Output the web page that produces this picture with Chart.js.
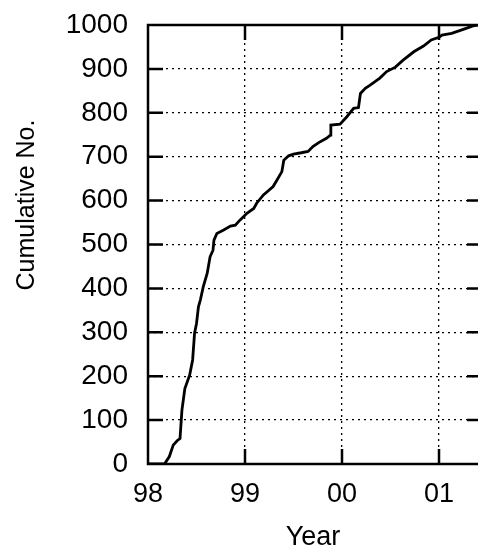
<!DOCTYPE html>
<html>
<head>
<meta charset="utf-8">
<script src="https://cdn.jsdelivr.net/npm/chart.js@4/dist/chart.umd.min.js"></script>
<style>
  html, body { margin: 0; padding: 0; background: #fff; }
  #wrap { width: 478px; height: 550px; }
</style>
</head>
<body>
<div id="wrap"><canvas id="cumChart"></canvas></div>
<script>
// Cumulative count traced over time (decimal year)
const years = [1998.00, 1998.17, 1998.22, 1998.26, 1998.30, 1998.33, 1998.35, 1998.38, 1998.43, 1998.46,
  1998.48, 1998.50, 1998.52, 1998.54, 1998.57, 1998.61, 1998.64, 1998.67, 1998.68, 1998.71,
  1998.78, 1998.85, 1998.90, 1998.95, 1999.02, 1999.09, 1999.12, 1999.19, 1999.29, 1999.33,
  1999.38, 1999.40, 1999.45, 1999.50, 1999.58, 1999.65, 1999.70, 1999.76, 1999.84, 1999.88,
  1999.885, 1999.98, 2000.05, 2000.12, 2000.17, 2000.19, 2000.24, 2000.29, 2000.39, 2000.46,
  2000.55, 2000.63, 2000.74, 2000.84, 2000.92, 2001.00, 2001.03, 2001.13, 2001.25, 2001.35, 2001.40];
const counts = [0, 0, 17, 43, 53, 58, 123, 172, 203, 237,
  298, 320, 358, 374, 404, 434, 472, 487, 510, 525,
  533, 542, 544, 556, 571, 582, 594, 613, 632, 647,
  666, 692, 702, 706, 709, 712, 723, 732, 742, 749,
  772, 774, 791, 810, 812, 844, 856, 863, 879, 894,
  904, 920, 939, 952, 966, 972, 977, 981, 990, 998, 1000];

const yearTicks = [1998, 1999, 2000, 2001];
const countTicks = [0, 100, 200, 300, 400, 500, 600, 700, 800, 900, 1000];

const FONT = '"Liberation Sans", Arial, Helvetica, sans-serif';

// frame, inner tick marks and rotated y title
const framePlugin = {
  id: 'frame',
  afterDraw(chart) {
    const { ctx, chartArea: a, scales } = chart;
    ctx.save();
    ctx.strokeStyle = '#000';
    ctx.lineWidth = 2.5;
    ctx.beginPath();
    ctx.moveTo(a.right + 2, a.top);
    ctx.lineTo(a.left, a.top);
    ctx.lineTo(a.left, a.bottom);
    ctx.lineTo(a.right + 2, a.bottom);
    ctx.stroke();

    const tl = 15;
    ctx.beginPath();
    yearTicks.forEach(v => {
      const x = scales.x.getPixelForValue(v);
      if (x <= a.left + 1) return;
      ctx.moveTo(x, a.bottom); ctx.lineTo(x, a.bottom - tl);
      ctx.moveTo(x, a.top); ctx.lineTo(x, a.top + tl);
    });
    countTicks.forEach(v => {
      const y = scales.y.getPixelForValue(v);
      if (v === 0 || v === 1000) return;
      ctx.moveTo(a.left, y); ctx.lineTo(a.left + tl, y);
      ctx.moveTo(a.right, y); ctx.lineTo(a.right - tl + 4, y);
    });
    ctx.stroke();

    ctx.translate(27, 205);
    ctx.rotate(-Math.PI / 2);
    ctx.fillStyle = '#000';
    ctx.font = '25px ' + FONT;
    ctx.textAlign = 'center';
    ctx.textBaseline = 'middle';
    ctx.fillText('Cumulative No.', 0, 0);
    ctx.restore();
  }
};

new Chart(document.getElementById('cumChart'), {
  type: 'line',
  data: {
    datasets: [{
      data: years.map((x, i) => ({ x: x, y: counts[i] })),
      borderColor: '#000',
      borderWidth: 2.8,
      pointRadius: 0,
      tension: 0,
      fill: false
    }]
  },
  options: {
    responsive: true,
    maintainAspectRatio: false,
    animation: false,
    layout: { padding: { top: 25, right: 0, left: 0, bottom: 0 } },
    plugins: { legend: { display: false }, tooltip: { enabled: false } },
    scales: {
      x: {
        type: 'linear',
        min: 1998,
        max: 2001.402,
        afterBuildTicks: s => { s.ticks = yearTicks.map(v => ({ value: v })); },
        afterFit: s => { s.height = 86; },
        border: { display: false, dash: [2, 4] },
        grid: { color: '#000', lineWidth: 1.3, drawTicks: false },
        ticks: {
          color: '#000',
          padding: 14,
          font: { family: FONT, size: 27 },
          callback: v => String(v % 100).padStart(2, '0')
        },
        title: {
          display: true,
          text: 'Year',
          color: '#000',
          padding: { top: 16, bottom: -4 },
          font: { family: FONT, size: 27 }
        }
      },
      y: {
        min: 0,
        max: 1000,
        afterBuildTicks: s => { s.ticks = countTicks.map(v => ({ value: v })); },
        afterFit: s => { s.width = 148; s.paddingTop = 12; s.paddingBottom = 12; },
        border: { display: false, dash: [2, 4] },
        grid: { color: '#000', lineWidth: 1.3, drawTicks: false },
        ticks: {
          color: '#000',
          padding: 20,
          font: { family: FONT, size: 28 },
          callback: v => String(v)
        }
      }
    }
  },
  plugins: [framePlugin]
});
</script>
</body>
</html>
